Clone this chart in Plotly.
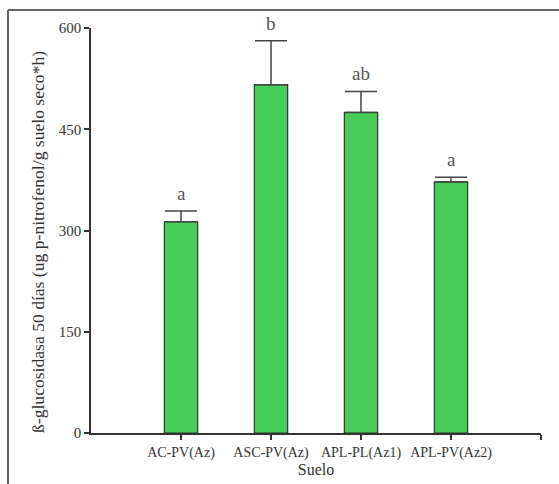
import plotly.graph_objects as go

categories = ["AC-PV(Az)", "ASC-PV(Az)", "APL-PL(Az1)", "APL-PV(Az2)"]
means = [313, 516, 475, 372]
errors = [16, 65, 31, 7]
letters = ["a", "b", "ab", "a"]
y_ticks = [0, 150, 300, 450, 600]
y_title = "ß-glucosidasa 50 días (ug p-nitrofenol/g suelo seco*h)"

FONT = "Liberation Serif, Times New Roman, DejaVu Serif, serif"
xpos = list(range(len(categories)))

fig = go.Figure()
fig.add_trace(go.Bar(
    x=xpos, y=means, width=0.37,
    marker=dict(color="#47CC5A", line=dict(color="#333333", width=1.2)),
    error_y=dict(type="data", symmetric=False, array=errors,
                 arrayminus=[0] * len(errors), color="#444444",
                 thickness=1.5, width=16),
    showlegend=False,
))

for x, m, e, t in zip(xpos, means, errors, letters):
    fig.add_annotation(x=x, y=m + e, text=t, showarrow=False,
                       yanchor="bottom", yshift=5,
                       font=dict(family=FONT, size=19, color="#555555"))

W, H = 559, 484
L, R, T, B = 91, 18, 28, 51
pw, ph = W - L - R, H - T - B
def px(xp): return (xp - L) / pw
def py(yp): return (H - B - yp) / ph

# y-axis title as rotated annotation
fig.add_annotation(xref="paper", yref="paper", x=px(38), y=py(242),
                   text=y_title, textangle=-90, showarrow=False,
                   xanchor="center", yanchor="middle",
                   font=dict(size=17.6, family=FONT, color="#333333"))

# frame lines (top and left of the surrounding box)
fig.add_shape(type="line", xref="paper", yref="paper",
              x0=px(8), y0=py(10), x1=px(W + 5), y1=py(10),
              line=dict(color="#666666", width=2))
fig.add_shape(type="line", xref="paper", yref="paper",
              x0=px(8), y0=py(10), x1=px(8), y1=py(H + 5),
              line=dict(color="#666666", width=2))

fig.update_layout(
    width=W, height=H,
    margin=dict(l=L, r=R, t=T, b=B),
    plot_bgcolor="white", paper_bgcolor="white",
    font=dict(family=FONT, color="#333333"),
    xaxis=dict(range=[-1, 4], tickvals=xpos + [4], ticktext=categories + [""],
               automargin=False,
               showgrid=False, zeroline=False, showline=True,
               linecolor="#333333", linewidth=1.5,
               ticks="outside", ticklen=5, tickcolor="#333333", tickwidth=1.5,
               tickfont=dict(size=14, family=FONT, color="#333333"),
               title=dict(text="Suelo", font=dict(size=16, family=FONT, color="#333333"),
                          standoff=3)),
    yaxis=dict(range=[0, 600], tickvals=y_ticks, automargin=False,
               showgrid=False, zeroline=False, showline=True,
               linecolor="#333333", linewidth=1.5,
               ticks="outside", ticklen=5, tickcolor="#333333", tickwidth=1.5,
               tickfont=dict(size=15, family=FONT, color="#333333")),
)

fig.write_html("out.html")
